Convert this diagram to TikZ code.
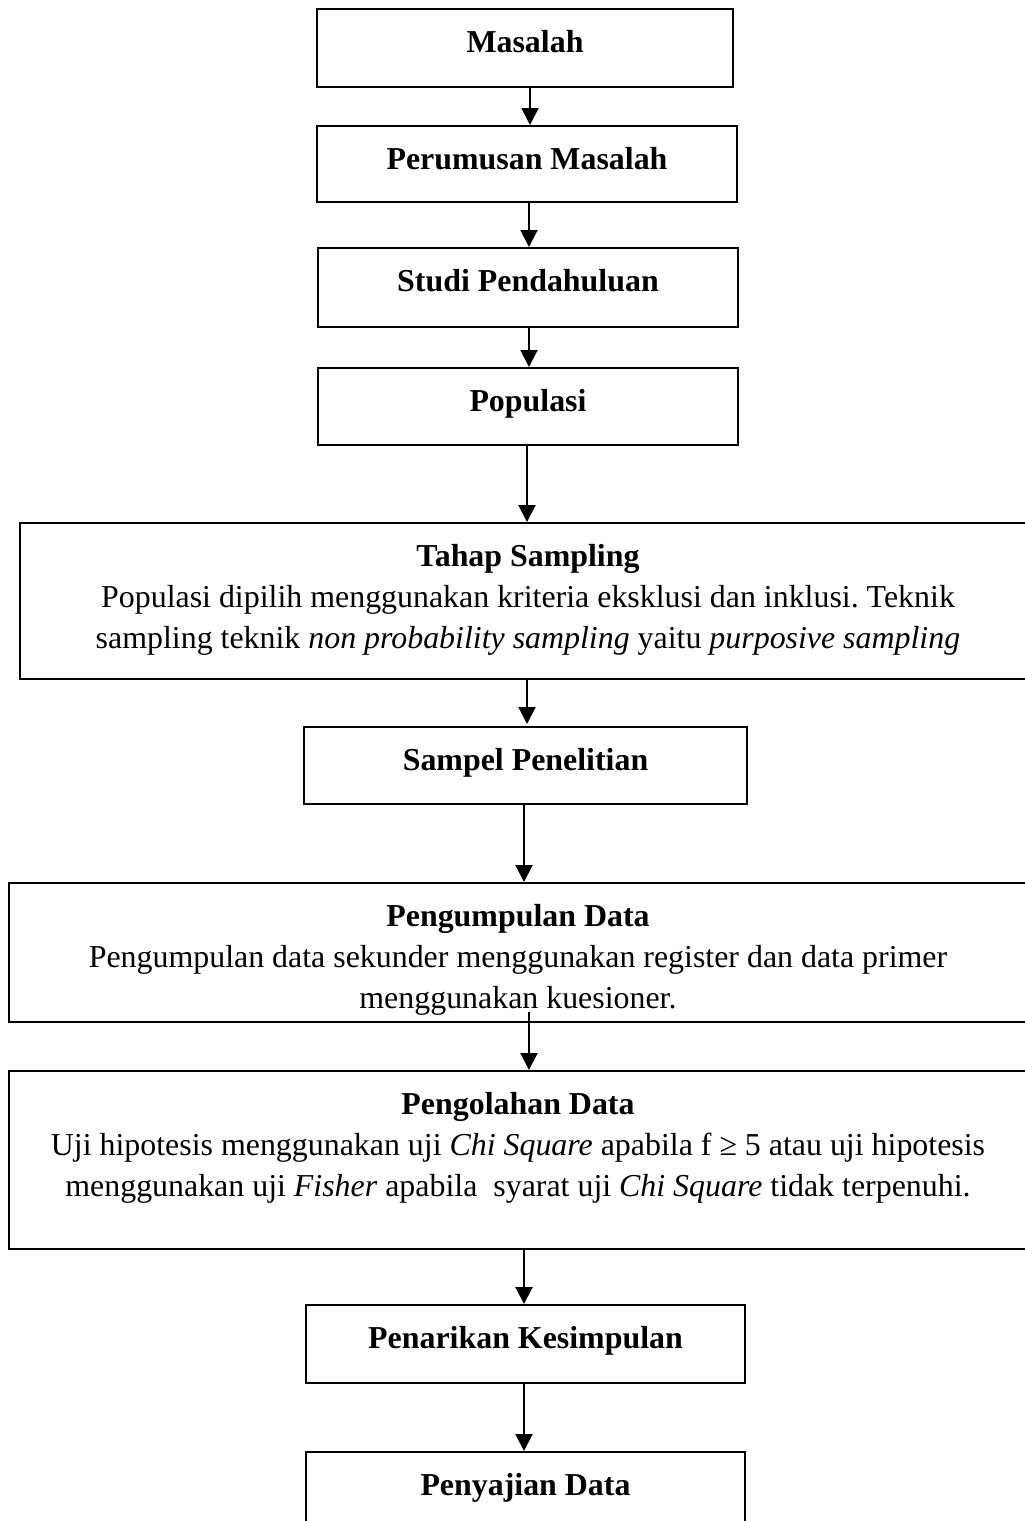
\documentclass[tikz,border=0pt]{standalone}
\usepackage{fontspec}
\setmainfont{Liberation Serif}
\usepackage{tikz}
\usetikzlibrary{positioning,arrows.meta}
\frenchspacing

\begin{document}
\begin{tikzpicture}[x=1pt, y=-1pt,
		box/.style={draw, line width=2pt, inner sep=0pt},
		boxtext/.style={align=center, inner sep=0pt, font=\fontsize{31.9}{41}\selectfont},
		arrow/.style={-{Triangle[width=17pt,length=17pt]}, line width=2pt},
	]
		\useasboundingbox (0,0) rectangle (1025,1521);

		% Kotak-kotak
		\node[box, minimum width=416pt, minimum height=78pt] (masalah) at (525,48) {};
		\node[box, minimum width=420pt, minimum height=76pt] (perumusan) at (527,164) {};
		\node[box, minimum width=420pt, minimum height=79pt] (studi) at (528,287.5) {};
		\node[box, minimum width=420pt, minimum height=77pt] (populasi) at (528,406.5) {};
		\node[box, minimum width=1016pt, minimum height=156pt] (tahap) at (528,601) {};
		\node[box, minimum width=443pt, minimum height=77pt] (sampel) at (525.5,765.5) {};
		\node[box, minimum width=1018pt, minimum height=139pt] (kumpul) at (518,952.5) {};
		\node[box, minimum width=1018pt, minimum height=178pt] (olah) at (518,1160) {};
		\node[box, minimum width=439pt, minimum height=78pt] (tarik) at (525.5,1344) {};
		\node[box, minimum width=439pt, minimum height=90pt] (saji) at (525.5,1497) {};

		% Teks
		\node[boxtext, below=22pt of masalah.north] (masalah-t) {\textbf{Masalah}};
		\node[boxtext, below=22pt of perumusan.north] (perumusan-t) {\textbf{Perumusan Masalah}};
		\node[boxtext, below=22pt of studi.north] (studi-t) {\textbf{Studi Pendahuluan}};
		\node[boxtext, below=22pt of populasi.north] (populasi-t) {\textbf{Populasi}};
		\node[boxtext, below=22pt of tahap.north] (tahap-t)
			{\textbf{Tahap Sampling}\\Populasi dipilih menggunakan kriteria eksklusi dan inklusi. Teknik\\
			sampling teknik \textit{non probability sampling} yaitu \textit{purposive sampling}};
		\node[boxtext, below=22pt of sampel.north] (sampel-t) {\textbf{Sampel Penelitian}};
		\node[boxtext, below=22pt of kumpul.north] (kumpul-t)
			{\textbf{Pengumpulan Data}\\Pengumpulan data sekunder menggunakan register dan data primer\\
			menggunakan kuesioner.};
		\node[boxtext, below=22pt of olah.north] (olah-t)
			{\textbf{Pengolahan Data}\\Uji hipotesis menggunakan uji \textit{Chi Square} apabila f ≥ 5 atau uji hipotesis\\
			menggunakan uji \textit{Fisher} apabila\ \ syarat uji \textit{Chi Square} tidak terpenuhi.};
		\node[boxtext, below=22pt of tarik.north] (tarik-t) {\textbf{Penarikan Kesimpulan}};
		\node[boxtext, below=22pt of saji.north] (saji-t) {\textbf{Penyajian Data}};

		% Panah
		\draw[arrow] ([xshift=5pt]masalah.south) -- ([xshift=5pt]masalah.south |- perumusan.north);
		\draw[arrow] ([xshift=2pt]perumusan.south) -- ([xshift=2pt]perumusan.south |- studi.north);
		\draw[arrow] ([xshift=1pt]studi.south) -- ([xshift=1pt]studi.south |- populasi.north);
		\draw[arrow] ([xshift=-1pt]populasi.south) -- ([xshift=-1pt]populasi.south |- tahap.north);
		\draw[arrow] ([xshift=-1pt,yshift=2pt]tahap.south) -- ([xshift=-1pt,yshift=2pt]tahap.south |- sampel.north);
		\draw[arrow] ([xshift=-1.5pt]sampel.south) -- ([xshift=-1.5pt]sampel.south |- kumpul.north);
		\draw[arrow] ([xshift=11pt,yshift=11pt]kumpul.south) -- ([xshift=11pt]kumpul.south |- olah.north);
		\draw[arrow] ([xshift=6pt]olah.south) -- ([xshift=6pt]olah.south |- tarik.north);
		\draw[arrow] ([xshift=-1.5pt]tarik.south) -- ([xshift=-1.5pt]tarik.south |- saji.north);
	\end{tikzpicture}
\end{document}
